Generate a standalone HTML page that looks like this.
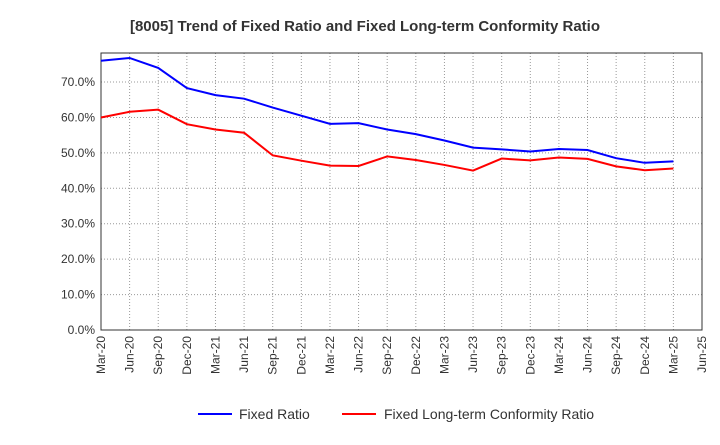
<!DOCTYPE html>
<html><head><meta charset="utf-8"><style>
body{margin:0;background:#fff;font-family:"Liberation Sans",sans-serif}
</style></head><body>
<svg id="c" width="720" height="440" viewBox="0 0 720 440" xmlns="http://www.w3.org/2000/svg">
<text x="365" y="31" text-anchor="middle" font-size="15" font-weight="bold" fill="#333">[8005]  Trend of Fixed Ratio and Fixed Long-term Conformity Ratio</text>
<g id="grid"></g><g id="axes"></g><g id="series"></g>
<g>
<line x1="198" y1="414" x2="232" y2="414" stroke="#0000ff" stroke-width="2"/>
<text x="239" y="419" font-size="14" fill="#333">Fixed Ratio</text>
<line x1="342" y1="414" x2="376" y2="414" stroke="#ff0000" stroke-width="2"/>
<text x="384" y="419" font-size="14" fill="#333">Fixed Long-term Conformity Ratio</text>
</g>
</svg>
<script>
const xLabels=["Mar-20","Jun-20","Sep-20","Dec-20","Mar-21","Jun-21","Sep-21","Dec-21","Mar-22","Jun-22","Sep-22","Dec-22","Mar-23","Jun-23","Sep-23","Dec-23","Mar-24","Jun-24","Sep-24","Dec-24","Mar-25","Jun-25"];
const yTicks=[0,10,20,30,40,50,60,70];
const fixedRatio=[76.0,76.8,74.0,68.3,66.3,65.3,62.8,60.5,58.2,58.4,56.6,55.3,53.5,51.5,51.0,50.4,51.1,50.8,48.5,47.2,47.6];
const conformityRatio=[60.0,61.6,62.2,58.1,56.6,55.7,49.3,47.8,46.4,46.3,49.0,48.0,46.6,45.0,48.4,47.9,48.7,48.3,46.2,45.1,45.6];
const L=101,R=702,T=53,B=330,yMax=78.2;
const NS="http://www.w3.org/2000/svg";
const xs=i=>L+(R-L)*i/(xLabels.length-1);
const ys=v=>B-(B-T)*v/yMax;
function mk(t,a,p){const e=document.createElementNS(NS,t);for(const k in a)e.setAttribute(k,a[k]);p.appendChild(e);return e;}
const g=document.getElementById('grid'),ax=document.getElementById('axes'),s=document.getElementById('series');
yTicks.forEach(v=>{
 const l=mk('line',{x1:L,x2:R,y1:ys(v),y2:ys(v),stroke:'#999','stroke-dasharray':'1,2'},g);
 
 
 const t=mk('text',{x:L-6,y:ys(v)+4,'text-anchor':'end','font-size':12,fill:'#333'},ax);
 t.textContent=v.toFixed(1)+'%';
 
 
});
xLabels.forEach((lab,i)=>{
 const x=xs(i);
 const l=mk('line',{x1:x,x2:x,y1:T,y2:B,stroke:'#999','stroke-dasharray':'1,2'},g);
 
 
 const t=mk('text',{x:x+4,y:B+6,'text-anchor':'end','font-size':12,fill:'#333',transform:`rotate(-90 ${x+4} ${B+6})`},ax);
 t.textContent=lab;
 
 
});
const fr=mk('rect',{x:L,y:T,width:R-L,height:B-T,fill:'none',stroke:'#333'},ax);


function line(d,c,n){const p=mk('polyline',{points:d.map((v,i)=>xs(i)+','+ys(v)).join(' '),fill:'none',stroke:c,'stroke-width':2},s);
 
 }
line(fixedRatio,'#0000ff','fixed-ratio-line');
line(conformityRatio,'#ff0000','conformity-ratio-line');
</script>
</body></html>
